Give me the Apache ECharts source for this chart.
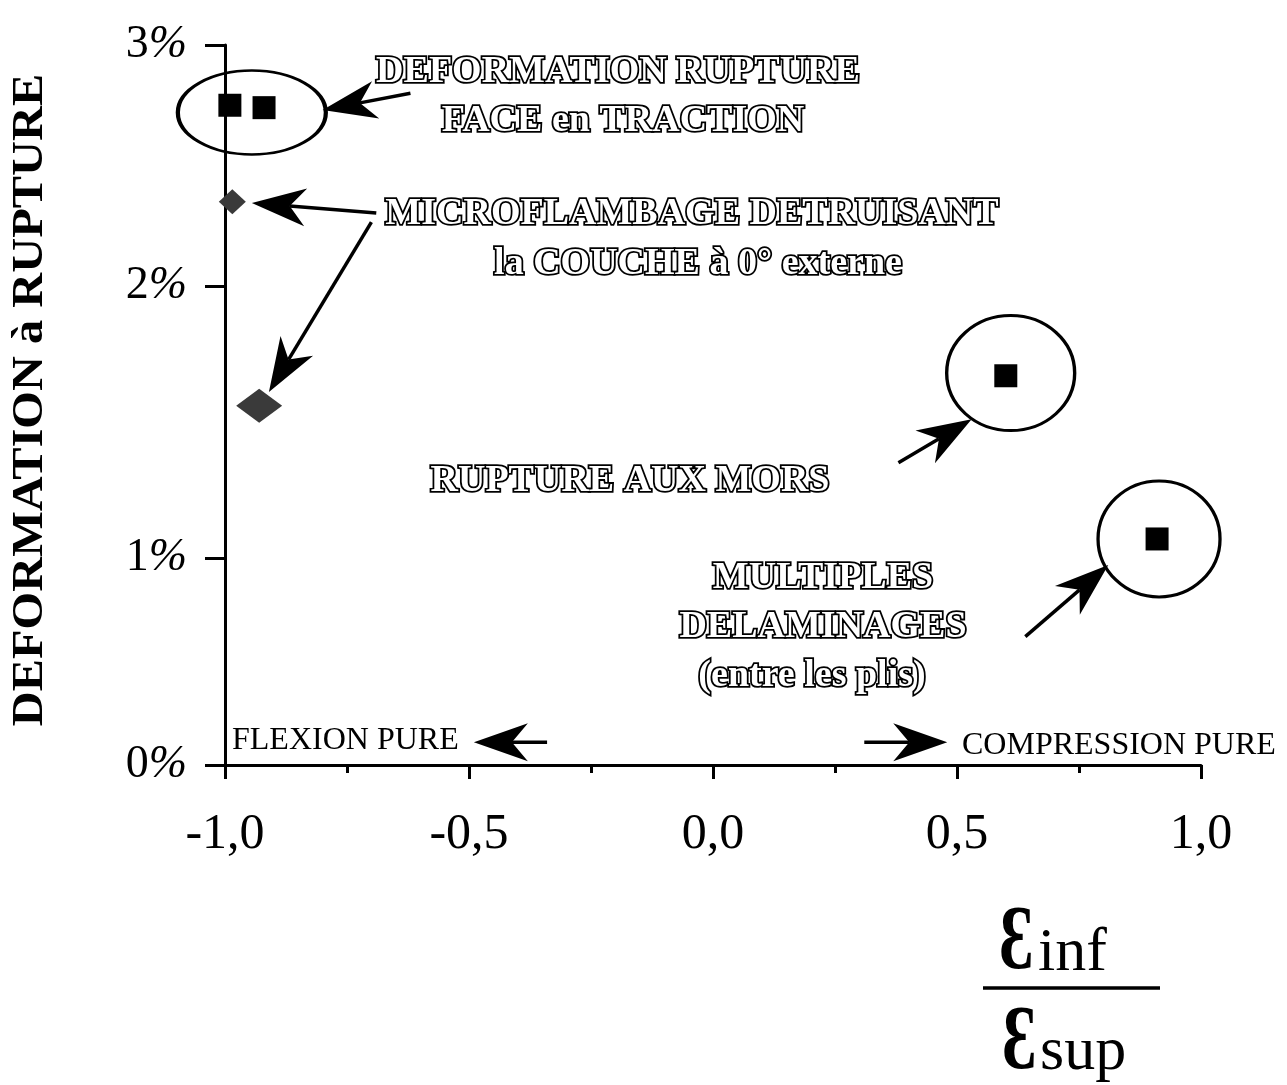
<!DOCTYPE html>
<html>
<head>
<meta charset="utf-8">
<script src="https://cdn.jsdelivr.net/npm/echarts@6/dist/echarts.min.js"></script>
<style>
  html, body { margin: 0; padding: 0; background: #fff; }
  #chart { width: 1287px; height: 1085px; }
</style>
</head>
<body>
<div id="chart"></div>
<script>
// Ratio eps_inf / eps_sup (x) versus strain at failure in % (y)
const yBands = [[2, 3], [1, 2], [0, 1]];          // the drawn y scale, one band per percent
const ruptureFace   = [[-0.99, 2.75], [-0.92, 2.74]];
const microflambage = [[-0.985, 2.35], [-0.93, 1.56]];
const ruptureMors   = [[0.60, 1.67]];
const delaminages   = [[0.91, 1.07]];

// circled groups (centre in data units)
const ringCentres = [[-0.945, 2.72], [0.61, 1.68], [0.914, 1.07]];
// annotation arrows: [x tail, y tail, x head, y head], band picked from the head
const arrowData = [
  [-0.62, 2.80, -0.80, 2.73],
  [-0.69, 2.303, -0.945, 2.344],
  [-0.70, 2.235, -0.91, 1.61],
  [0.38, 1.35, 0.53, 1.51],
  [0.64, 0.62, 0.81, 0.966],
  [-0.34, 0.11, -0.49, 0.11],
  [0.31, 0.11, 0.48, 0.11]
];

const SERIF = '"Liberation Serif", "Times New Roman", "DejaVu Serif", serif';
const ringSizes = [[148, 84], [128, 115], [122, 116]];
const gridTop = [45, 286, 558];
const gridHeight = [241, 272, 207];

const bandOf = y => (y >= 2 ? 0 : (y >= 1 ? 1 : 2));
const inBand = (pts, b, yi) => pts.filter(p => bandOf(p[yi === undefined ? 1 : yi]) === b);

const grids = yBands.map((b, i) => ({
  left: 225, right: 86, top: gridTop[i], height: gridHeight[i],
  containLabel: false, outerBoundsMode: 'none'
}));

const xAxes = yBands.map((b, i) => ({
  gridIndex: i, type: 'value', min: -1, max: 1, interval: 0.5,
  show: i === 2,
  axisLine: { show: true, onZero: false, lineStyle: { color: '#000', width: 3 } },
  axisTick: { show: true, length: 14, lineStyle: { color: '#000', width: 3 } },
  minorTick: { show: true, splitNumber: 2, length: 8, lineStyle: { color: '#000', width: 3 } },
  splitLine: { show: false },
  minorSplitLine: { show: false },
  axisLabel: {
    margin: 45, fontSize: 50, fontFamily: SERIF, color: '#000',
    formatter: v => v.toFixed(1).replace('.', ',')
  }
}));

const yAxes = yBands.map((b, i) => ({
  gridIndex: i, type: 'value', min: b[0], max: b[1], interval: 1,
  axisLine: { show: true, onZero: false, lineStyle: { color: '#000', width: 3 } },
  axisTick: { show: true, length: 20, lineStyle: { color: '#000', width: 3 } },
  splitLine: { show: false },
  axisLabel: {
    showMinLabel: i === 2, showMaxLabel: true, margin: 38,
    formatter: v => '{n|' + v + '}{p|%}',
    rich: {
      n: { fontSize: 46, fontFamily: SERIF, color: '#000' },
      p: { fontSize: 46, fontFamily: SERIF, fontStyle: 'italic', color: '#000' }
    }
  }
}));

const series = [];
yBands.forEach((b, i) => {
  const rings = ringCentres.map((c, k) => ({ value: c, symbolSize: ringSizes[k] }))
    .filter(d => bandOf(d.value[1]) === i);
  if (rings.length) series.push({
    type: 'scatter', xAxisIndex: i, yAxisIndex: i, z: 2, silent: true,
    symbol: 'circle', data: rings,
    itemStyle: { color: 'rgba(0,0,0,0)', borderColor: '#000', borderWidth: 3.2, opacity: 1 }
  });
  const sq = inBand(ruptureFace.concat(ruptureMors, delaminages), i);
  if (sq.length) series.push({
    name: 'rupture', type: 'scatter', xAxisIndex: i, yAxisIndex: i, z: 3,
    symbol: 'rect', symbolSize: 23, data: sq,
    itemStyle: { color: '#000', opacity: 1 }
  });
  const dm = inBand(microflambage, i);
  if (dm.length) series.push({
    name: 'microflambage', type: 'scatter', xAxisIndex: i, yAxisIndex: i, z: 3,
    symbol: 'diamond',
    symbolSize: v => (v[1] < 2 ? [46, 34] : [27, 25]),
    data: dm,
    itemStyle: { color: '#3a3a3a', opacity: 1 }
  });
  const ar = inBand(arrowData, i, 3);
  if (ar.length) series.push({
    type: 'custom', xAxisIndex: i, yAxisIndex: i, z: 4, silent: true, clip: false,
    data: ar,
    renderItem: (params, api) => {
      const p0 = api.coord([api.value(0), api.value(1)]);
      const p1 = api.coord([api.value(2), api.value(3)]);
      const dx = p1[0] - p0[0], dy = p1[1] - p0[1];
      const L = Math.hypot(dx, dy), ux = dx / L, uy = dy / L;
      const hl = 54, hw = 19, notch = 38;
      const base = [p1[0] - ux * hl, p1[1] - uy * hl];
      const left = [base[0] - uy * hw, base[1] + ux * hw];
      const right = [base[0] + uy * hw, base[1] - ux * hw];
      const back = [p1[0] - ux * notch, p1[1] - uy * notch];
      return {
        type: 'group',
        children: [
          { type: 'line', shape: { x1: p0[0], y1: p0[1], x2: back[0], y2: back[1] },
            style: { stroke: '#000', lineWidth: 3.5 } },
          { type: 'polygon', shape: { points: [p1, left, back, right] },
            style: { fill: '#000' } }
        ]
      };
    }
  });
});

// engraved-looking caption text
function engraved(text, x, y) {
  return {
    type: 'text', x: x, y: y, silent: true,
    style: {
      text: text, font: 'bold 38px ' + SERIF,
      fill: '#fff', stroke: '#000', lineWidth: 3.6,
      textAlign: 'center', textVerticalAlign: 'middle',
      shadowColor: '#000', shadowOffsetX: 2.5, shadowOffsetY: 2, shadowBlur: 0
    }
  };
}
function plain(text, x, y, size, align) {
  return {
    type: 'text', x: x, y: y, silent: true,
    style: {
      text: text, font: size + 'px ' + SERIF, fill: '#000',
      textAlign: align || 'left', textVerticalAlign: 'middle'
    }
  };
}

const graphics = [
  engraved('DEFORMATION RUPTURE', 618, 72),
  engraved('FACE en TRACTION', 623, 121),
  engraved('MICROFLAMBAGE DETRUISANT', 692, 214),
  engraved('la COUCHE à 0° externe', 698, 264),
  engraved('RUPTURE AUX MORS', 630, 481),
  engraved('MULTIPLES', 823, 578),
  engraved('DELAMINAGES', 823, 627),
  engraved('(entre les plis)', 812, 676),
  plain('FLEXION PURE', 232, 741, 32),
  plain('COMPRESSION PURE', 962, 746, 32),
  // y axis title
  {
    type: 'text', x: 31, y: 400, rotation: Math.PI / 2, scaleX: 1.1, silent: true,
    style: {
      text: 'DEFORMATION à RUPTURE', font: 'bold 44px ' + SERIF, fill: '#000',
      textAlign: 'center', textVerticalAlign: 'middle'
    }
  },
  // x axis title: eps_inf / eps_sup
  {
    type: 'text', x: 1016, y: 990, scaleX: 0.72, silent: true,
    style: { text: 'Ɛ', font: 'bold 90px ' + SERIF, fill: '#000', textAlign: 'center', textVerticalAlign: 'bottom' }
  },
  {
    type: 'text', x: 1038, y: 985, silent: true,
    style: { text: 'inf', font: '62px ' + SERIF, fill: '#000', textAlign: 'left', textVerticalAlign: 'bottom' }
  },
  {
    type: 'line', silent: true,
    shape: { x1: 983, y1: 988, x2: 1160, y2: 988 },
    style: { stroke: '#000', lineWidth: 3.5 }
  },
  {
    type: 'text', x: 1019, y: 1090, scaleX: 0.72, silent: true,
    style: { text: 'Ɛ', font: 'bold 90px ' + SERIF, fill: '#000', textAlign: 'center', textVerticalAlign: 'bottom' }
  },
  {
    type: 'text', x: 1040, y: 1084, silent: true,
    style: { text: 'sup', font: '62px ' + SERIF, fill: '#000', textAlign: 'left', textVerticalAlign: 'bottom' }
  }
];

const chart = echarts.init(document.getElementById('chart'), null, { renderer: 'canvas' });
chart.setOption({
  animation: false,
  backgroundColor: '#fff',
  grid: grids,
  xAxis: xAxes,
  yAxis: yAxes,
  series: series,
  graphic: { elements: graphics }
});
</script>
</body>
</html>
